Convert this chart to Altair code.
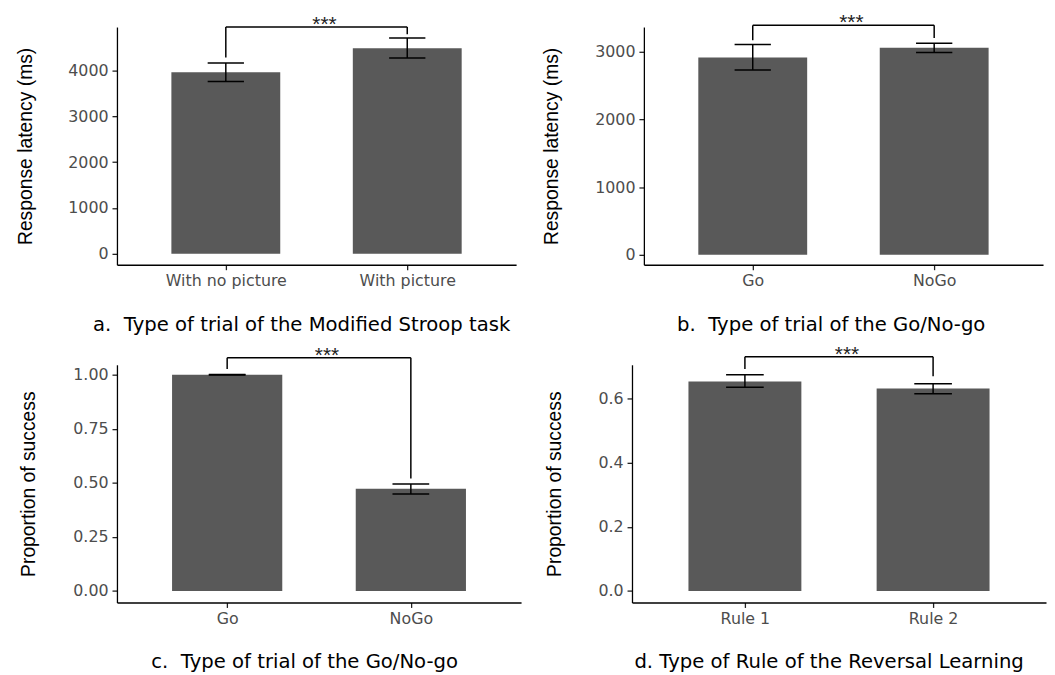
import altair as alt
import pandas as pd

# ---------------- data ----------------
# a. Modified Stroop task
cats_a = ["With no picture", "With picture"]
mean_a = [3964, 4490]
low_a = [3762, 4274]
high_a = [4166, 4714]
bracket_a = 4950
legs_a = [4288, 4793]
ticks_a = [0, 1000, 2000, 3000, 4000]

# b. Go/No-go latency
cats_b = ["Go", "NoGo"]
mean_b = [2915, 3059]
low_b = [2732, 2990]
high_b = [3107, 3127]
bracket_b = 3391
legs_b = [3171, 3205]
ticks_b = [0, 1000, 2000, 3000]

# c. Go/No-go success
cats_c = ["Go", "NoGo"]
mean_c = [1.0, 0.473]
low_c = [0.999, 0.449]
high_c = [1.001, 0.495]
bracket_c = 1.078
legs_c = [1.027, 0.52]
ticks_c = [0.0, 0.25, 0.5, 0.75, 1.0]

# d. Reversal learning success
cats_d = ["Rule 1", "Rule 2"]
mean_d = [0.653, 0.631]
low_d = [0.635, 0.615]
high_d = [0.674, 0.646]
bracket_d = 0.730
legs_d = [0.692, 0.669]
ticks_d = [0.0, 0.2, 0.4, 0.6]

BAR = "#595959"
LABEL_FONT = "DejaVu Sans"
YTITLE_FONT = "Liberation Sans"
H = 240
NB = "\u00a0"  # keeps the double space of the captions


def panel(cats, means, lows, highs, bracket, legs, ydomain, yticks, yfmt,
          ytitle, xtitle, width, ytitle_x, xtitle_x, xtitle_y=66):
    pos = [i + 1 for i in range(len(cats))]
    df = pd.DataFrame({"pos": pos, "mean": means, "low": lows, "high": highs})
    df["bl"] = df["pos"] - 0.3
    df["br"] = df["pos"] + 0.3
    df["base"] = 0.0

    # line segments: error bars, caps, significance bracket
    segs = []
    for p, lo, hi in zip(pos, lows, highs):
        segs.append((p, p, lo, hi))
        segs.append((p - 0.1, p + 0.1, hi, hi))
        segs.append((p - 0.1, p + 0.1, lo, lo))
    segs.append((pos[0], pos[1], bracket, bracket))
    segs.append((pos[0], pos[0], legs[0], bracket))
    segs.append((pos[1], pos[1], legs[1], bracket))
    sdf = pd.DataFrame(segs, columns=["x", "x2", "y", "y2"])
    tdf = pd.DataFrame({"x": [(pos[0] + pos[1]) / 2], "y": [bracket], "t": ["***"]})

    label_expr = "[" + ",".join("'" + c + "'" for c in cats) + "][datum.value - 1]"
    xscale = alt.Scale(domain=[0.4, 2.6], nice=False, zero=False)
    yscale = alt.Scale(domain=ydomain, nice=False, zero=False)
    xaxis = alt.Axis(
        values=pos, labelExpr=label_expr, title=xtitle, grid=False,
        domainColor="black", domainWidth=1.3, tickColor="#222222", tickWidth=1.3,
        tickSize=5, labelColor="#4D4D4D", labelFont=LABEL_FONT, labelFontSize=16,
        labelPadding=3, titleFont=LABEL_FONT, titleFontSize=19.8, titleFontWeight="normal",
        titleColor="black", titleX=xtitle_x, titleY=xtitle_y, titleAlign="center",
        titleBaseline="alphabetic",
    )
    yaxis = alt.Axis(
        values=yticks, format=yfmt, title=ytitle, grid=False,
        domainColor="black", domainWidth=1.3, tickColor="#222222", tickWidth=1.3,
        tickSize=5, labelColor="#4D4D4D", labelFont=LABEL_FONT, labelFontSize=16,
        labelPadding=4, titleFont=YTITLE_FONT, titleFontSize=19.5, titleFontWeight="normal",
        titleColor="black", titleAngle=270, titleX=ytitle_x, titleY=H / 2,
        titleAlign="center", titleBaseline="middle",
    )

    bars = alt.Chart(df).mark_bar(color=BAR).encode(
        x=alt.X("bl:Q", scale=xscale, axis=xaxis),
        x2="br:Q",
        y=alt.Y("mean:Q", scale=yscale, axis=yaxis),
        y2="base:Q",
    )
    lines = alt.Chart(sdf).mark_rule(color="black", strokeWidth=1.5, clip=False).encode(
        x=alt.X("x:Q", scale=xscale, axis=xaxis),
        x2="x2:Q",
        y=alt.Y("y:Q", scale=yscale, axis=yaxis),
        y2="y2:Q",
    )
    stars = alt.Chart(tdf).mark_text(
        font="Liberation Sans", fontSize=21, color="#222222", baseline="alphabetic",
        dx=8, dy=4, clip=False,
    ).encode(
        x=alt.X("x:Q", scale=xscale, axis=xaxis),
        y=alt.Y("y:Q", scale=yscale, axis=yaxis),
        text="t:N",
    )
    return alt.layer(bars, lines, stars).properties(width=width, height=H)


pa = panel(cats_a, mean_a, low_a, high_a, bracket_a, legs_a, [-238, 4951], ticks_a, "d",
           "Response latency (ms)", "a." + NB + " Type of trial of the Modified Stroop task",
           403, -92.25, 186)
pb = panel(cats_b, mean_b, low_b, high_b, bracket_b, legs_b, [-146, 3366], ticks_b, "d",
           "Response latency (ms)", "b." + NB + " Type of trial of the Go/No-go",
           403, -93, 188.6)
pc = panel(cats_c, mean_c, low_c, high_c, bracket_c, legs_c, [-0.053, 1.046], ticks_c, ".2f",
           "Proportion of success", "c." + NB + " Type of trial of the Go/No-go",
           408, -89.25, 189)
pd_ = panel(cats_d, mean_d, low_d, high_d, bracket_d, legs_d, [-0.036, 0.705], ticks_d, ".1f",
            "Proportion of success", "d. Type of Rule of the Reversal Learning",
            418, -78, 198.5)

chart = alt.vconcat(
    alt.hconcat(pa, pb, spacing=24),
    alt.hconcat(pc, pd_, spacing=22),
    spacing=8,
).properties(
    padding={"left": 7, "top": 0, "right": 0, "bottom": 0}
).configure_view(stroke="transparent")

chart.save("out.html", embed_options={"renderer": "svg", "actions": False})
